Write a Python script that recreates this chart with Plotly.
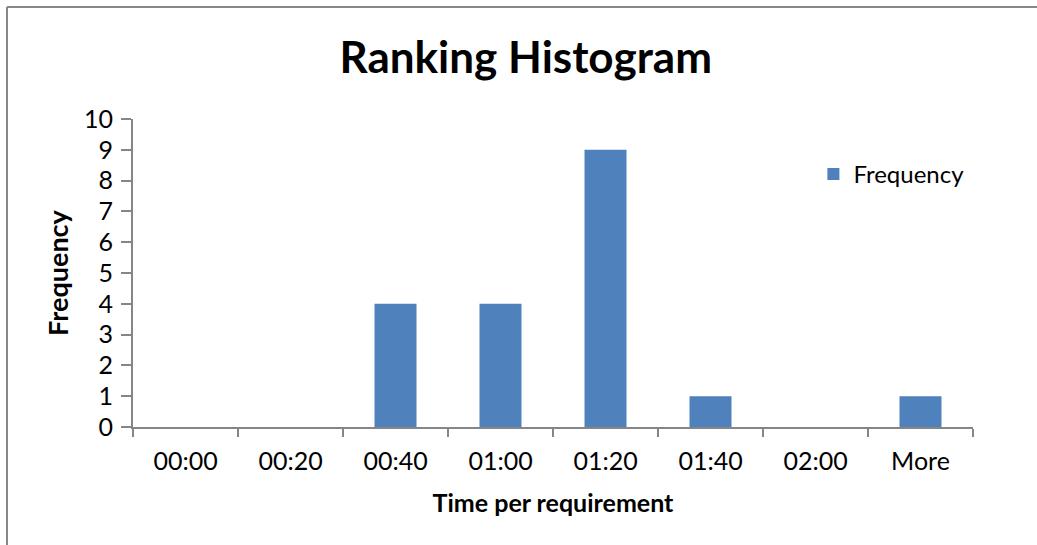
import plotly.graph_objects as go

categories = ["00:00", "00:20", "00:40", "01:00", "01:20", "01:40", "02:00", "More"]
frequency = [0, 0, 4, 4, 9, 1, 0, 1]
y_ticks = list(range(0, 11))

FONT = "Lato"
AXIS_COLOR = "#868686"

fig = go.Figure()
fig.add_trace(go.Bar(
    x=categories, y=frequency, name="Frequency",
    marker=dict(color="#4F81BD", line=dict(width=0)),
))

fig.update_layout(
    width=1037, height=545,
    margin=dict(l=133, r=64, t=119, b=118, autoexpand=False),
    paper_bgcolor="white", plot_bgcolor="white",
    font=dict(family=FONT, color="black", size=25),
    title=dict(text="<b>Ranking Histogram</b>", x=0.507, xanchor="center",
               y=0.894, yanchor="middle", yref="container",
               font=dict(family=FONT, size=44, color="black")),
    bargap=0.6,
    showlegend=True,
    legend=dict(x=0.81, y=0.82, xanchor="left", yanchor="middle",
                font=dict(family=FONT, size=24), bgcolor="rgba(0,0,0,0)"),
    xaxis=dict(
        type="category", categoryorder="array", categoryarray=categories,
        range=[-0.5, len(categories) - 0.5],
        showline=True, linecolor=AXIS_COLOR, linewidth=2,
        ticks="outside", tickson="boundaries", ticklen=8, tickwidth=2, tickcolor=AXIS_COLOR,
        showgrid=False, zeroline=False,
        tickfont=dict(family=FONT, size=25),
        ticklabelstandoff=11,
        title=dict(text="<b>Time per requirement</b>", font=dict(family=FONT, size=25), standoff=20),
    ),
    yaxis=dict(
        range=[0, 10], tickvals=y_ticks,
        showline=True, linecolor=AXIS_COLOR, linewidth=2,
        ticks="outside", ticklen=10, tickwidth=2, tickcolor=AXIS_COLOR,
        showgrid=False, zeroline=False,
        tickfont=dict(family=FONT, size=25),
        ticklabelstandoff=3,
        title=dict(text="<b>Frequency</b>", font=dict(family=FONT, size=27), standoff=8),
    ),
    shapes=[
        dict(type="line", xref="paper", yref="paper", x0=-0.15, x1=-0.15, y0=-0.6, y1=1.3636,
             line=dict(color="#878787", width=2)),
        dict(type="line", xref="paper", yref="paper", x0=-0.15, x1=1.2, y0=1.3636, y1=1.3636,
             line=dict(color="#878787", width=2)),
    ],
)

fig.write_html("out.html", config={"displayModeBar": False},
               post_script="document.body.style.margin='0';document.body.style.overflow='hidden';")
